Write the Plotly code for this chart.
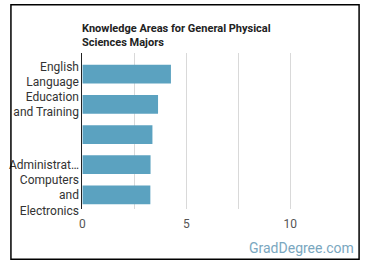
import plotly.graph_objects as go

categories = ["English Language", "Education and Training", "Unlabeled", "Administration and Management", "Computers and Electronics"]
tick_labels = ["English<br>Language", "Education<br>and Training", "", "Administrat…", "Computers<br>and<br>Electronics"]
values = [4.26, 3.64, 3.37, 3.28, 3.27]
x_ticks = [0, 5, 10]

W, H = 370, 278
def px(x): return x / W
def py(y): return 1 - y / H

fig = go.Figure(go.Bar(
    x=values, y=categories, orientation="h",
    marker=dict(color="#5ba2c0", line=dict(width=0)),
    width=0.62, hoverinfo="skip"
))

fig.update_layout(
    width=W, height=H, autosize=False,
    margin=dict(l=0, r=0, t=0, b=0),
    paper_bgcolor="white", plot_bgcolor="white",
    showlegend=False,
    font=dict(family="Roboto", size=12, color="#333"),
    xaxis=dict(
        domain=[px(80), px(341)], range=[0, 12.45],
        tickvals=x_ticks, ticktext=[str(v) for v in x_ticks],
        showgrid=True, gridcolor="#d9d9d9", gridwidth=1,
        minor=dict(dtick=2.5, tick0=0, showgrid=True, gridcolor="#d9d9d9", gridwidth=1),
        zeroline=False, showline=False, ticks="",
        ticklabelstandoff=6,
        tickfont=dict(size=12, color="#555"),
        fixedrange=True,
    ),
    yaxis=dict(
        domain=[py(215), py(55)],
        categoryorder="array", categoryarray=categories,
        range=[4.46, -0.685],
        tickvals=categories, ticktext=tick_labels,
        showline=True, linecolor="#222", linewidth=1,
        showgrid=False, ticks="", ticklen=0,
        tickfont=dict(size=12, color="#333"),
        fixedrange=True,
    ),
    shapes=[dict(type="rect", xref="paper", yref="paper",
                 x0=px(8), x1=px(359), y0=py(267), y1=py(5),
                 line=dict(color="black", width=1.5), fillcolor="rgba(0,0,0,0)")],
    annotations=[
        dict(text="<b>Knowledge Areas for General Physical<br>Sciences Majors</b>",
             xref="paper", yref="paper", x=px(78), y=py(21),
             xanchor="left", yanchor="top", align="left", showarrow=False,
             font=dict(family="Roboto", size=11, color="#222")),
        dict(text="GradDegree.com", xref="paper", yref="paper",
             x=px(356), y=py(255), xanchor="right", yanchor="middle",
             showarrow=False, font=dict(family="Roboto", size=14, color="#7aa7c0")),
    ],
)

fig.write_html("out.html")
